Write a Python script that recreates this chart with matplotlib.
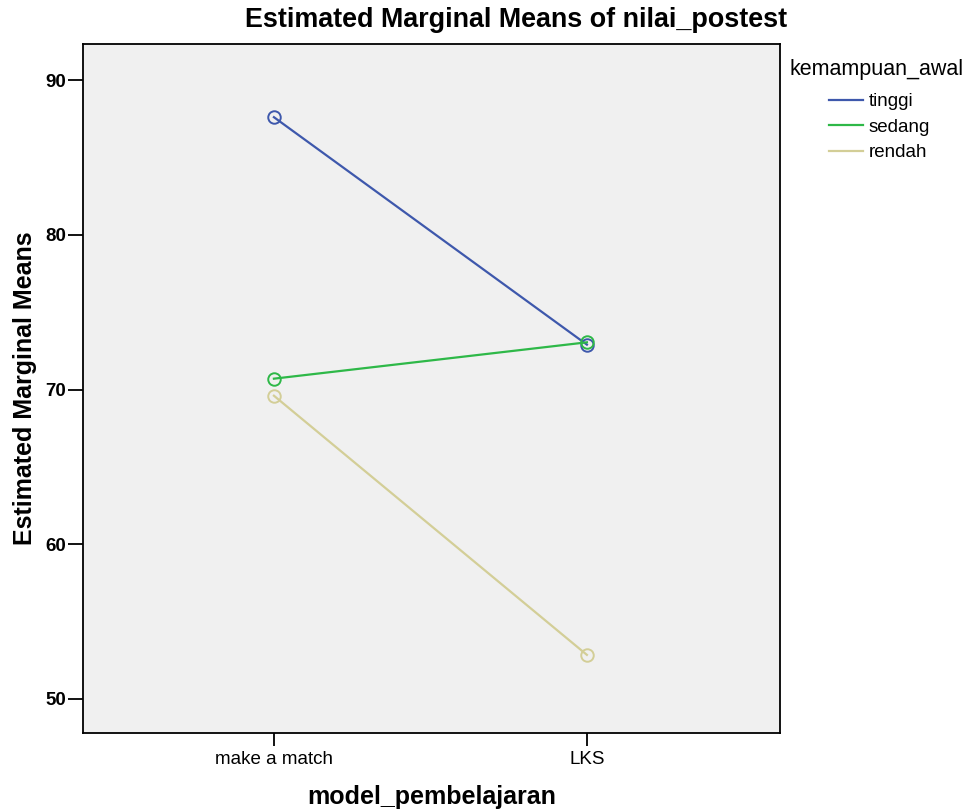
import numpy as np
import matplotlib
matplotlib.use("Agg")
import matplotlib.pyplot as plt
from matplotlib.lines import Line2D

plt.rcParams['font.family'] = ['Liberation Sans', 'DejaVu Sans']

categories = ["make a match", "LKS"]
groups = ["tinggi", "sedang", "rendah"]
tinggi = [87.6, 72.9]
sedang = [70.7, 73.05]
rendah = [69.6, 52.85]
colors = ["#3E58AC", "#2EB848", "#D3CE97"]

fig = plt.figure(figsize=(9.7, 8.09), dpi=100)
ax = fig.add_axes([83/970, 1-733/809, (780-83)/970, (733-44)/809])
ax.set_facecolor("#F0F0F0")

x = np.arange(len(categories))
for vals, col, name in zip([tinggi, sedang, rendah], colors, groups):
    ax.plot(x, vals, color=col, lw=1.6, marker="o", ms=9, mfc="none",
            mec=col, mew=1.4, label=name)

ax.set_xlim(-0.61, 1.617)
ax.set_ylim(47.8, 92.33)
ax.set_xticks(x)
ax.set_xticklabels(categories)
ax.set_yticks([50, 60, 70, 80, 90])
ax.tick_params(axis="y", length=11, pad=1)
ax.tick_params(axis="x", length=9, pad=4)
ax.tick_params(axis="both", direction="out", width=1.3, labelsize=13.5, colors="black")
for lab in ax.get_yticklabels():
    lab.set_fontweight("bold")
for s in ax.spines.values():
    s.set_linewidth(1.3)

ax.set_xlabel("model_pembelajaran", fontsize=18, fontweight="bold", labelpad=12)
ax.set_ylabel("Estimated Marginal Means", fontsize=18, fontweight="bold", labelpad=6)
fig.text(516/970, 1-20/809, "Estimated Marginal Means of nilai_postest", fontsize=19.4,
         fontweight="bold", ha="center", va="center")

# legend
fig.text(790/970, 1-69/809, "kemampuan_awal", fontsize=15.5, ha="left", va="center")
handles = [Line2D([0], [0], color=c, lw=1.6) for c in colors]
leg = fig.legend(handles, groups, loc="upper left",
                 bbox_to_anchor=(829/970, 1-93/809), frameon=False, fontsize=13.5,
                 handlelength=1.8, handletextpad=0.3, labelspacing=0.45,
                 borderpad=0, borderaxespad=0)

fig.savefig("out.png", dpi=100)
